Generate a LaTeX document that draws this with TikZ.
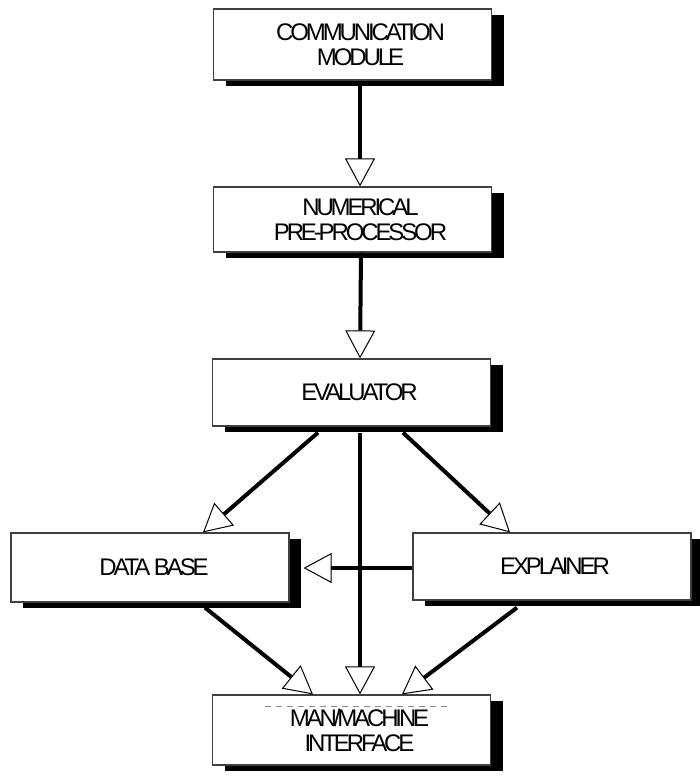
\documentclass[tikz,border=0pt]{standalone}
\usepackage{fontspec}
\setmainfont{Liberation Sans}[LetterSpace=-13]
\usetikzlibrary{arrows.meta,shadows}

\begin{document}
\begin{tikzpicture}[x=1pt,y=-1pt,
    box/.style={draw=black!75, line width=1.2pt, fill=white, minimum width=278pt,
                general shadow={fill=black, shadow xshift=12pt, shadow yshift=-6pt}},
    lbl/.style={align=center, xshift=8pt, font=\fontsize{24}{25}\selectfont},
    flow/.style={line width=4pt, -{Triangle[length=28pt, width=30pt, fill=white, line width=1pt]}}]

    \useasboundingbox (0,0) rectangle (700,776);

    % the six modules
    \node[box, minimum height=71pt, label={[lbl]center:{COMMUNICATION\\MODULE}}] (comm) at (352.5,44.5) {};
    \node[box, minimum height=65pt, label={[lbl]center:{NUMERICAL\\PRE-PROCESSOR}}] (num) at (352.5,219.5) {};
    \node[box, minimum height=67pt, label={[lbl]center:EVALUATOR}] (eval) at (351.5,392.5) {};
    \node[box, minimum height=69pt, label={[lbl, xshift=-4pt]center:DATA BASE}] (db) at (150,567.5) {};
    \node[box, minimum height=67pt, label={[lbl, xshift=-5pt]center:EXPLAINER}] (expl) at (552,566.5) {};
    \node[box, minimum height=70pt, label={[lbl]center:{MAN/MACHINE\\INTERFACE}}] (mm) at (351.5,730) {};

    % straight down the middle
    \draw[flow] ([xshift=7.5pt]comm.south) -- ([xshift=7.5pt]num.north);
    \draw[flow] ([xshift=8.5pt]num.south) -- ([xshift=8.5pt]eval.north);
    \draw[flow] ([xshift=8.5pt,yshift=-6pt]eval.south) -- ([xshift=8.5pt]mm.north);

    % evaluator to data base and explainer
    \draw[flow] ([xshift=-33.5pt,yshift=-6pt]eval.south) -- ([xshift=53pt]db.north);
    \draw[flow] ([xshift=51.5pt,yshift=-6pt]eval.south) -- ([xshift=-42pt]expl.north);

    % explainer back to data base
    \draw[flow] ([yshift=-1.5pt]expl.west) -- ([xshift=14pt,yshift=-0.5pt]db.east);

    % into the interface
    \draw[flow] ([xshift=55pt,yshift=-5pt]db.south) -- ([xshift=-38.5pt]mm.north);
    \draw[flow] ([xshift=-35pt,yshift=-7pt]expl.south) -- ([xshift=50.5pt]mm.north);

    \draw[black!45, line width=1pt, dash pattern=on 6pt off 5pt] ([xshift=-87pt,yshift=-12pt]mm.north) -- ([xshift=99pt,yshift=-12pt]mm.north);
\end{tikzpicture}
\end{document}
